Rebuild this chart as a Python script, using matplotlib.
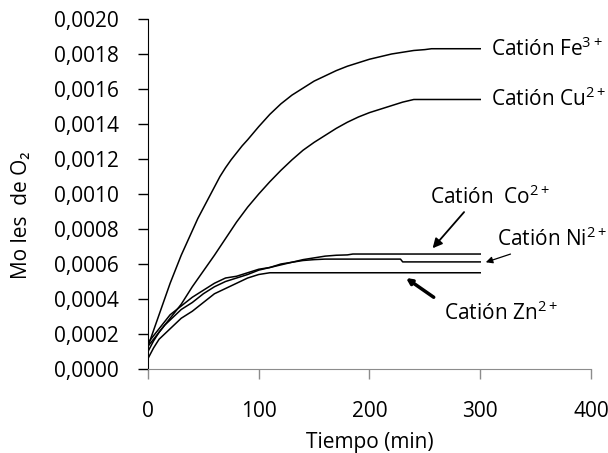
#!/usr/bin/env python3

"""
Moles de O2 vs tiempo para distintos cationes
"""

import matplotlib
matplotlib.use("Agg")
import matplotlib.pyplot as plt
from matplotlib.ticker import FuncFormatter

# tiempo (min) y moles de O2 (x1e-3)
t_fe = [0, 5, 10, 15, 20, 25, 30, 35, 40, 45, 50, 55, 60, 65, 70, 75, 80,
        85, 90, 100, 110, 120, 130, 140, 150, 160, 170, 180, 190, 200, 210,
        220, 230, 240, 250, 256, 300]
fe = [0.13, 0.22, 0.31, 0.40, 0.49, 0.57, 0.65, 0.72, 0.79, 0.86, 0.92, 0.98,
      1.04, 1.10, 1.15, 1.195, 1.235, 1.275, 1.31, 1.385, 1.455, 1.515, 1.565,
      1.605, 1.645, 1.675, 1.705, 1.73, 1.75, 1.77, 1.785, 1.80, 1.81, 1.82,
      1.825, 1.83, 1.83]

t_cu = [0, 5, 10, 15, 20, 25, 30, 35, 40, 50, 60, 70, 80, 90, 100, 110, 120,
        130, 140, 150, 160, 170, 180, 190, 200, 210, 220, 230, 240, 300]
cu = [0.10, 0.16, 0.21, 0.25, 0.29, 0.33, 0.37, 0.42, 0.47, 0.56, 0.65, 0.745,
      0.84, 0.925, 1.0, 1.07, 1.135, 1.195, 1.25, 1.295, 1.335, 1.375, 1.41,
      1.44, 1.465, 1.485, 1.505, 1.525, 1.54, 1.54]

t_co = [0, 5, 10, 15, 20, 30, 40, 50, 60, 70, 80, 90, 100, 110, 120, 130,
        140, 150, 160, 170, 180, 185, 300]
co = [0.13, 0.17, 0.21, 0.25, 0.28, 0.34, 0.38, 0.43, 0.47, 0.50, 0.52, 0.54,
      0.565, 0.58, 0.595, 0.61, 0.625, 0.635, 0.645, 0.65, 0.652, 0.657, 0.657]

t_ni = [0, 5, 10, 15, 20, 30, 40, 50, 60, 70, 80, 90, 100, 110, 120, 130,
        140, 150, 160, 228, 230, 300]
ni = [0.15, 0.19, 0.23, 0.27, 0.31, 0.36, 0.41, 0.45, 0.49, 0.52, 0.53, 0.55,
      0.57, 0.58, 0.60, 0.61, 0.62, 0.625, 0.628, 0.628, 0.612, 0.612]

t_zn = [0, 5, 10, 15, 20, 30, 40, 50, 60, 70, 80, 90, 100, 110, 300]
zn = [0.06, 0.12, 0.17, 0.20, 0.23, 0.29, 0.33, 0.38, 0.43, 0.46, 0.49, 0.52,
      0.54, 0.55, 0.55]

FONT = ["Open Sans", "DejaVu Sans"]
plt.rcParams["font.family"] = FONT
plt.rcParams["mathtext.fontset"] = "custom"
plt.rcParams["mathtext.rm"] = "Open Sans"
plt.rcParams["mathtext.default"] = "regular"

fig = plt.figure(figsize=(6.08, 4.53), dpi=100)
ax = fig.add_axes([0.2434, 0.1854, 0.7286, 0.7727])

for t, v in [(t_fe, fe), (t_cu, cu), (t_co, co), (t_ni, ni), (t_zn, zn)]:
    ax.plot(t, [y * 1e-3 for y in v], color="black", lw=1.1)

ax.set_xlim(0, 400)
ax.set_ylim(0, 0.002)
ax.set_xticks([0, 100, 200, 300, 400])
ax.set_yticks([i * 0.0002 for i in range(11)])
ax.yaxis.set_major_formatter(FuncFormatter(lambda v, _: f"{v:.4f}".replace(".", ",")))

ax.spines["top"].set_visible(False)
ax.spines["right"].set_visible(False)
ax.spines["bottom"].set_color("#8c8c8c")
ax.spines["left"].set_color("black")
ax.tick_params(axis="y", direction="out", length=7, width=1, color="black",
               labelsize=15, pad=14)
ax.tick_params(axis="x", direction="out", length=7, width=1, color="#8c8c8c",
               labelsize=15, pad=16)

ax.set_xlabel("Tiempo (min)", fontsize=15, labelpad=7)
fig.text(22 / 608, 1 - 215 / 453, "Mo les  de O₂", rotation=90, fontsize=15,
         ha="center", va="center")

# etiquetas de cada cation
ax.text(310, 0.00183, "Catión Fe$^{3+}$", fontsize=15, va="center")
ax.text(310, 0.00154, "Catión Cu$^{2+}$", fontsize=15, va="center")
ax.annotate("Catión  Co$^{2+}$", xy=(257, 0.00069), xytext=(255, 0.00098),
            fontsize=15, va="center",
            arrowprops=dict(arrowstyle="-|>", color="black", lw=1.3,
                            mutation_scale=14, shrinkA=0, shrinkB=0,
                            relpos=(0.3, 0.0)))
ax.annotate("Catión Ni$^{2+}$", xy=(305, 0.00061), xytext=(315, 0.00074),
            fontsize=15, va="center",
            arrowprops=dict(arrowstyle="-|>", color="black", lw=0.9,
                            mutation_scale=10, shrinkA=0, shrinkB=0,
                            relpos=(0.2, 0.0)))
ax.annotate("", xy=(233, 0.00052), xytext=(258, 0.00041),
            arrowprops=dict(arrowstyle="-|>", color="black", lw=2.5,
                            mutation_scale=8, shrinkA=0, shrinkB=0))
ax.text(267, 0.00032, "Catión Zn$^{2+}$", fontsize=15, va="center")

plt.savefig("out.png", dpi=100)
